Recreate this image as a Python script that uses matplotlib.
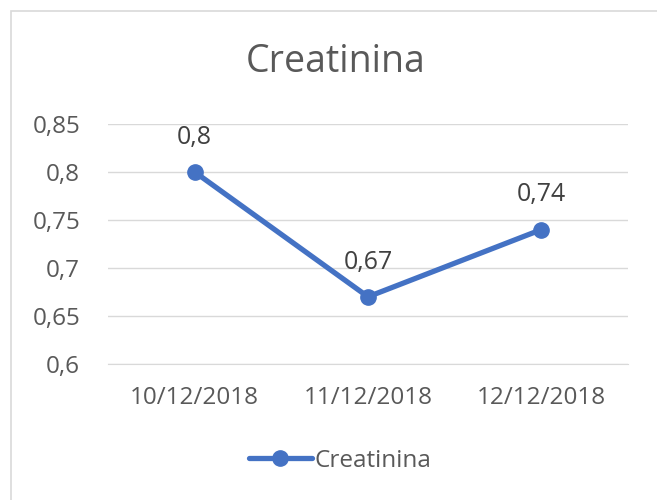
import matplotlib
matplotlib.use("Agg")
import matplotlib.pyplot as plt
from matplotlib.patches import Rectangle

# Data
dates = ["10/12/2018", "11/12/2018", "12/12/2018"]
creatinina = [0.80, 0.67, 0.74]
labels = ["0,8", "0,67", "0,74"]
yticks = [0.6, 0.65, 0.7, 0.75, 0.8, 0.85]
ytick_labels = ["0,6", "0,65", "0,7", "0,75", "0,8", "0,85"]

plt.rcParams['font.family'] = ['Open Sans', 'DejaVu Sans']
blue = '#4472C4'
txt = '#595959'

fig = plt.figure(figsize=(6.57, 5), dpi=100)
fig.patches.append(Rectangle((11/657, -0.1), 1.2, 1 - 11/500 + 0.1,
                             transform=fig.transFigure, fill=False,
                             edgecolor='#d9d9d9', linewidth=1.2))

ax = fig.add_axes([108/657, 1 - 364/500, 520/657, 240/500])
x = range(len(dates))
ax.plot(x, creatinina, color=blue, linewidth=3.8, marker='o', markersize=11,
        solid_capstyle='round', label='Creatinina', zorder=3)
for xi, yi, lab in zip(x, creatinina, labels):
    ax.annotate(lab, (xi, yi), xytext=(0, 16), textcoords='offset points',
                ha='center', va='bottom', fontsize=18, color='#404040')

ax.set_xlim(-0.5, 2.5)
ax.set_ylim(0.6, 0.85)
ax.set_yticks(yticks)
ax.set_yticklabels(ytick_labels)
ax.set_xticks(list(x))
ax.set_xticklabels(dates)
ax.tick_params(axis='both', length=0, labelsize=17.5, colors=txt)
ax.tick_params(axis='y', pad=20)
ax.tick_params(axis='x', pad=16)
ax.grid(axis='y', color='#d9d9d9', linewidth=1)
ax.set_axisbelow(True)
for s in ax.spines.values():
    s.set_visible(False)
ax.spines['bottom'].set_visible(True)
ax.spines['bottom'].set_color('#d9d9d9')

fig.text(336/657, 1 - 62/500, 'Creatinina', ha='center', va='center',
         fontsize=27, color=txt)

leg = fig.legend(loc='center', bbox_to_anchor=(340/657, 1 - 461/500),
                 frameon=False, fontsize=17.5, handlelength=2.6,
                 handletextpad=0.1, labelcolor=txt)

fig.savefig('out.png', dpi=100)
